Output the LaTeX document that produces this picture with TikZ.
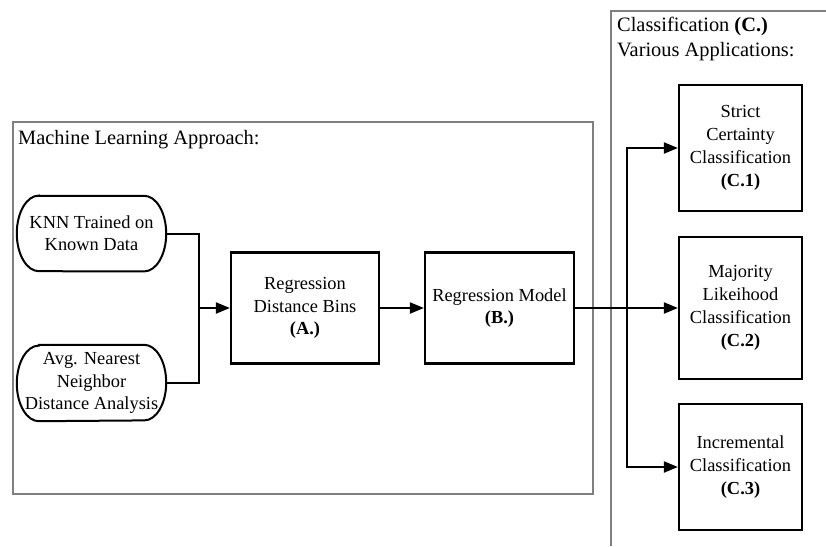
\documentclass[tikz,border=0pt]{standalone}
\usepackage{fontspec}
\setmainfont{Liberation Serif}
\usetikzlibrary{arrows.meta}
\begin{document}
\begin{tikzpicture}[x=1pt,y=-1pt,
  frame/.style={draw=black!50, line width=1.3pt},
  title/.style={inner sep=0pt, anchor=base west, font={\fontsize{20.4}{24.6}\selectfont}},
  box/.style={draw=black, line width=2.2pt, inner sep=0pt, align=center,
              font={\fontsize{18.4}{22.8}\selectfont}},
  pill/.style={inner sep=0pt, align=center, font={\fontsize{18.4}{22.2}\selectfont}},
  link/.style={draw=black, line width=2pt},
  arr/.style={link, -{Triangle[length=14pt,width=11pt]}}]

\useasboundingbox (0,0) rectangle (826,546);

% group frames
\draw[frame] (13,122) rectangle (593,494);
\draw[frame] (826,11) -- (611,11) -- (611,546);

% frame titles
\node[title] (mltitle) at (18,144.5) {Machine Learning Approach:};
\node[title] (ctitleA) at (617,31.5) {Classification \textbf{(C.)}};
\node[title] (ctitleB) at (617,56.5) {Various Applications:};

% input terminals
\node[pill, minimum width=149pt, minimum height=75pt] (knn) at (91.5,233.5)
  {KNN Trained on\\Known Data};
\node[pill, minimum width=149pt, minimum height=76pt] (avg) at (91.5,383)
  {Avg. Nearest\\Neighbor\\Distance Analysis};
\foreach \n in {knn,avg}{
  \draw[line width=2pt]
    ([xshift=22pt]\n.north west) -- ([xshift=-22pt]\n.north east)
    arc[start angle=90, end angle=-90, x radius=22pt, y radius=37.8pt]
    -- ([xshift=22pt]\n.south west)
    arc[start angle=270, end angle=90, x radius=22pt, y radius=37.8pt]
    -- cycle;
}

% processing steps
\node[box, minimum width=148pt, minimum height=111pt] (rdb) at (305,308)
  {Regression\\Distance Bins\\\textbf{(A.)}};
\node[box, minimum width=149pt, minimum height=111pt] (rm) at (499.5,308)
  {Regression Model\\\textbf{(B.)}};

% classification variants
\node[box, minimum width=123pt, minimum height=126pt] (c1) at (740.5,148)
  {Strict\\Certainty\\Classification\\\textbf{(C.1)}};
\node[box, minimum width=123pt, minimum height=142pt] (c2) at (740.5,308)
  {Majority\\Likeihood\\Classification\\\textbf{(C.2)}};
\node[box, minimum width=123pt, minimum height=126pt] (c3) at (740.5,467)
  {Incremental\\Classification\\\textbf{(C.3)}};

% connectors
\coordinate (join) at (199,308);
\coordinate (fork) at (627,308);
\draw[link] (knn.east) -| (join);
\draw[link] (avg.east) -| (join);
\draw[arr] (join) -- (rdb.west);
\draw[arr] (rdb.east) -- (rm.west);
\draw[arr] (rm.east) -- (c2.west);
\draw[arr] (fork) |- (c1.west);
\draw[arr] (fork) |- (c3.west);
\end{tikzpicture}
\end{document}
